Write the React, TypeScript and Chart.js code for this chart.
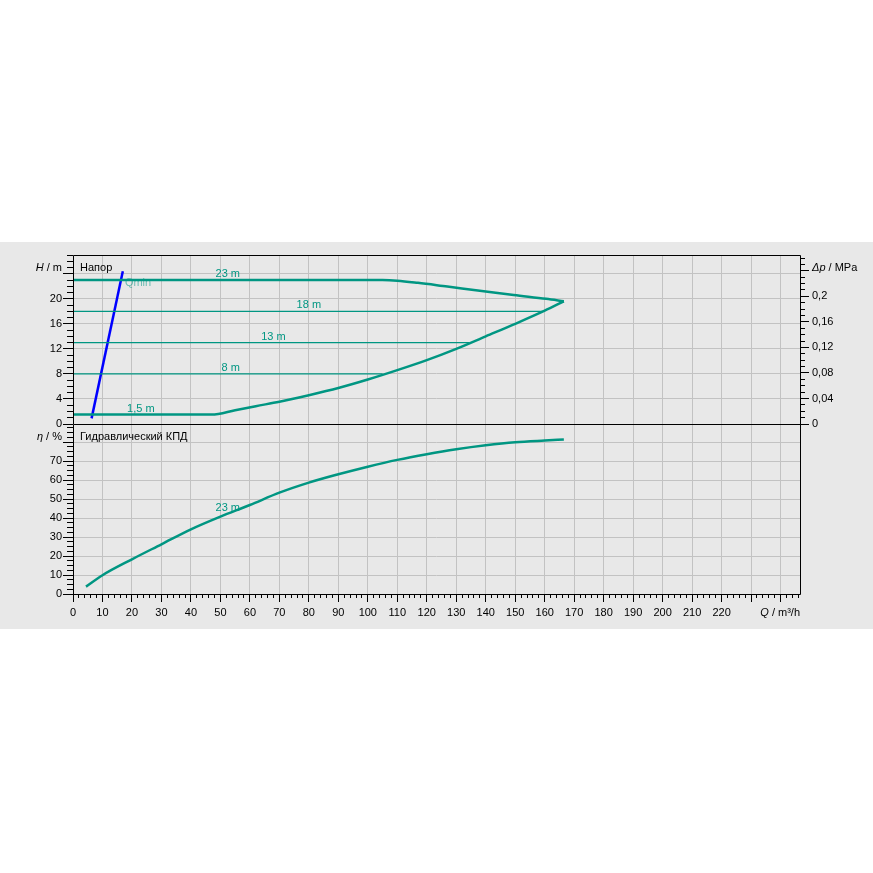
import React, { useEffect, useRef } from 'react';
import { Chart, registerables } from 'chart.js';
Chart.register(...registerables);

const TEAL = 'rgb(0,150,130)';
const TEAL_PALE = 'rgba(0,150,130,0.55)';
const GRID = '#c2c2c2';
const BG = '#e8e8e8';
const FONT = "'Liberation Sans', Arial, sans-serif";
Chart.defaults.font.family = FONT;
Chart.defaults.font.size = 11;
Chart.defaults.color = '#000';

// ---- data (Q in m³/h) ----
const Q_MAX = 246.6;          // right edge of the Q axis
const H_MAX = 27;             // top of the head panel, m
const P_MAX = 27 / 101.97;    // same top in MPa
const ETA_MAX = 89.6;         // top of the efficiency panel, %

// max curve (23 m, then falling)
const qMax = [0, 105, 110, 117, 127, 138, 149.5, 160.5, 166.5];
const hMax = [23, 23, 22.9, 22.55, 21.95, 21.3, 20.6, 20.0, 19.6];
// min curve (1,5 m, then rising)
const qMin = [0, 47, 55, 62, 70, 80, 90, 100, 110, 120, 130, 140, 150, 160, 166.5];
const hMin = [1.5, 1.5, 2.2, 2.85, 3.55, 4.6, 5.75, 7.1, 8.6, 10.2, 12.0, 14.0, 16.0, 18.1, 19.6];
// constant-head lines
const q18 = [0, 159.5];
const h18 = [18, 18];
const q13 = [0, 134.5];
const h13 = [13, 13];
const q8 = [0, 105];
const h8 = [8, 8];
// Qmin line
const qQmin = [6.3, 16.9];
const hQmin = [0.9, 24.4];
// hydraulic efficiency
const qEta = [4.4, 10, 20, 30, 40, 50, 60, 70, 80, 90, 100, 110, 120, 130, 140, 150, 160, 166.5];
const etaVals = [3.9, 9.9, 18.3, 26.2, 34.1, 40.8, 46.9, 53.4, 58.7, 63.1, 67.1, 70.7, 73.7, 76.3, 78.4, 80.0, 80.9, 81.4];

// curve labels
const headLabelText = ['23 m', '18 m', '13 m', '8 m', '1,5 m'];
const headLabelQ = [52.5, 80, 68, 53.5, 23];
const headLabelH = [23, 18, 13, 8, 1.5];
const etaLabelText = ['23 m'];
const etaLabelQ = [52.5];
const etaLabelEta = [42.3];
const qminLabel = { text: 'Qmin', q: 17.6, h: 22.5 };

const pts = (xs: number[], ys: number[]) => xs.map((x, i) => ({ x, y: ys[i] }));

function align(p: number) {
  return Math.round(p - 0.5) + 0.5;
}

function drawUnit(ctx: CanvasRenderingContext2D, italic: string, rest: string, x: number, y: number, alignTo: 'left' | 'right') {
  ctx.save();
  ctx.textBaseline = 'middle';
  ctx.textAlign = 'left';
  ctx.fillStyle = '#000';
  ctx.font = `italic 11px ${FONT}`;
  const wi = ctx.measureText(italic).width;
  ctx.font = `11px ${FONT}`;
  const wr = ctx.measureText(rest).width;
  const x0 = alignTo === 'right' ? x - wi - wr : x;
  ctx.font = `italic 11px ${FONT}`;
  ctx.fillText(italic, x0, y);
  ctx.font = `11px ${FONT}`;
  ctx.fillText(rest, x0 + wi, y);
  ctx.restore();
}

type MinorSpec = { id: string; step: number; len: number; side: 'left' | 'right' | 'bottom' };

function drawMinor(chart: any, specs: MinorSpec[]) {
  const ctx = chart.ctx;
  ctx.save();
  ctx.strokeStyle = '#000';
  ctx.lineWidth = 1;
  ctx.beginPath();
  for (const spec of specs) {
    const s = chart.scales[spec.id];
    const n = Math.floor((s.max - s.min) / spec.step + 1e-6);
    for (let i = 0; i <= n; i++) {
      const v = s.min + i * spec.step;
      const p = align(s.getPixelForValue(v));
      if (spec.side === 'left') {
        ctx.moveTo(s.right - spec.len, p);
        ctx.lineTo(s.right, p);
      } else if (spec.side === 'right') {
        ctx.moveTo(s.left, p);
        ctx.lineTo(s.left + spec.len, p);
      } else {
        ctx.moveTo(p, s.top);
        ctx.lineTo(p, s.top + spec.len);
      }
    }
  }
  ctx.stroke();
  ctx.restore();
}

function drawFrame(chart: any) {
  const { left, right, top, bottom } = chart.chartArea;
  const ctx = chart.ctx;
  ctx.save();
  ctx.strokeStyle = '#000';
  ctx.lineWidth = 1;
  ctx.beginPath();
  const l = align(left), r = align(right), t = align(top), b = align(bottom);
  ctx.moveTo(l, t); ctx.lineTo(r, t); ctx.lineTo(r, b); ctx.lineTo(l, b); ctx.closePath();
  ctx.stroke();
  ctx.restore();
}

const lineDs = (data: any[], width: number, color: string, yAxisID: string, smooth: boolean) => ({
  data,
  yAxisID,
  borderColor: color,
  backgroundColor: color,
  borderWidth: width,
  showLine: true,
  pointRadius: 0,
  fill: false,
  cubicInterpolationMode: smooth ? 'monotone' : 'default',
  tension: 0,
});

const xTicksCb = (v: number) => (v > 220 ? '' : String(v));

function topConfig(): any {
  return {
    type: 'scatter',
    data: {
      datasets: [
        lineDs(pts(q18, h18), 1.2, TEAL, 'yH', false),
        lineDs(pts(q13, h13), 1.2, TEAL, 'yH', false),
        lineDs(pts(q8, h8), 1.2, TEAL, 'yH', false),
        lineDs(pts(qMax, hMax), 2.5, TEAL, 'yH', true),
        lineDs(pts(qMin, hMin), 2.5, TEAL, 'yH', true),
        lineDs(pts(qQmin, hQmin), 2.5, '#0000ff', 'yH', false),
      ],
    },
    options: {
      animation: false,
      responsive: false,
      layout: { padding: { top: 13, left: 0, right: 0, bottom: 0 } },
      plugins: { legend: { display: false }, tooltip: { enabled: false } },
      scales: {
        x: {
          type: 'linear', position: 'bottom', min: 0, max: Q_MAX,
          ticks: { display: false, stepSize: 10, includeBounds: false, autoSkip: false },
          grid: { color: GRID, drawTicks: false, tickLength: 0 },
          border: { display: false },
          afterFit: (s: any) => { s.height = 13; },
        },
        yH: {
          type: 'linear', position: 'left', min: 0, max: H_MAX,
          ticks: { stepSize: 4, includeBounds: false, autoSkip: false, padding: 1, color: '#000',
            callback: (v: number) => (v === 24 ? '' : String(v)) },
          grid: { color: GRID, tickColor: '#000', tickLength: 10 },
          border: { display: false },
          afterFit: (s: any) => { s.width = 73; },
        },
        yP: {
          type: 'linear', position: 'right', min: 0, max: P_MAX,
          ticks: { stepSize: 0.04, includeBounds: false, autoSkip: false, padding: 3, color: '#000',
            callback: (v: number) => (Math.abs(v - 0.24) < 1e-6 ? '' : v === 0 ? '0' : String(+v.toFixed(2)).replace('.', ',')) },
          grid: { drawOnChartArea: false, tickColor: '#000', tickLength: 9 },
          border: { display: false },
          afterFit: (s: any) => { s.width = 73; },
        },
      },
    },
    plugins: [
      {
        id: 'topBefore',
        beforeDatasetsDraw(chart: any) {
          const ctx = chart.ctx;
          const x = chart.scales.x, y = chart.scales.yH;
          ctx.save();
          ctx.font = `11px ${FONT}`;
          ctx.fillStyle = TEAL_PALE;
          ctx.textAlign = 'left';
          ctx.textBaseline = 'middle';
          ctx.fillText(qminLabel.text, x.getPixelForValue(qminLabel.q), y.getPixelForValue(qminLabel.h));
          ctx.restore();
        },
      },
      {
        id: 'topAfter',
        afterDraw(chart: any) {
          drawFrame(chart);
          drawMinor(chart, [
            { id: 'yH', step: 1, len: 6, side: 'left' },
            { id: 'yP', step: 0.01, len: 5, side: 'right' },
          ]);
          const ctx = chart.ctx;
          const x = chart.scales.x, y = chart.scales.yH;
          ctx.save();
          ctx.font = `11px ${FONT}`;
          ctx.fillStyle = TEAL;
          ctx.textAlign = 'center';
          ctx.textBaseline = 'alphabetic';
          headLabelText.forEach((t, i) => {
            ctx.fillText(t, x.getPixelForValue(headLabelQ[i]), y.getPixelForValue(headLabelH[i]) - 3);
          });
          ctx.fillStyle = '#000';
          ctx.textAlign = 'left';
          ctx.textBaseline = 'middle';
          const ty = chart.chartArea.top + 13;
          ctx.fillText('Напор', chart.chartArea.left + 7, ty);
          ctx.restore();
          drawUnit(ctx, 'H', ' / m', 62, ty, 'right');
          drawUnit(ctx, 'Δp', ' / MPa', chart.chartArea.right + 12, ty, 'left');
        },
      },
    ],
  };
}

function bottomConfig(): any {
  return {
    type: 'scatter',
    data: {
      datasets: [lineDs(pts(qEta, etaVals), 2.5, TEAL, 'yE', true)],
    },
    options: {
      animation: false,
      responsive: false,
      layout: { padding: { top: 8, left: 0, right: 73, bottom: 0 } },
      plugins: { legend: { display: false }, tooltip: { enabled: false } },
      scales: {
        x: {
          type: 'linear', position: 'bottom', min: 0, max: Q_MAX,
          ticks: { stepSize: 10, includeBounds: false, autoSkip: false, maxRotation: 0, padding: 4, color: '#000',
            callback: xTicksCb },
          grid: { color: GRID, tickColor: '#000', tickLength: 8 },
          border: { display: false },
          afterFit: (s: any) => { s.height = 35; },
        },
        yE: {
          type: 'linear', position: 'left', min: 0, max: ETA_MAX,
          ticks: { stepSize: 10, includeBounds: false, autoSkip: false, padding: 1, color: '#000',
            callback: (v: number) => (v === 80 ? '' : String(v)) },
          grid: { color: GRID, tickColor: '#000', tickLength: 10 },
          border: { display: false },
          afterFit: (s: any) => { s.width = 73; },
        },
      },
    },
    plugins: [
      {
        id: 'botAfter',
        afterDraw(chart: any) {
          drawFrame(chart);
          drawMinor(chart, [
            { id: 'yE', step: 2.5, len: 6, side: 'left' },
            { id: 'x', step: 2, len: 4, side: 'bottom' },
          ]);
          const ctx = chart.ctx;
          const x = chart.scales.x, y = chart.scales.yE;
          ctx.save();
          ctx.font = `11px ${FONT}`;
          ctx.fillStyle = TEAL;
          ctx.textAlign = 'center';
          ctx.textBaseline = 'alphabetic';
          etaLabelText.forEach((t, i) => {
            ctx.fillText(t, x.getPixelForValue(etaLabelQ[i]), y.getPixelForValue(etaLabelEta[i]) - 3);
          });
          ctx.fillStyle = '#000';
          ctx.textAlign = 'left';
          ctx.textBaseline = 'middle';
          const ty = chart.chartArea.top + 13;
          ctx.fillText('Гидравлический КПД', chart.chartArea.left + 7, ty);
          ctx.restore();
          drawUnit(ctx, 'η', ' / %', 62, ty, 'right');
          drawUnit(ctx, 'Q', ' / m³/h', chart.chartArea.right, chart.chartArea.bottom + 19, 'right');
        },
      },
    ],
  };
}

export default function App() {
  const topRef = useRef<HTMLCanvasElement>(null);
  const botRef = useRef<HTMLCanvasElement>(null);
  useEffect(() => {
    const c1 = new Chart(topRef.current as HTMLCanvasElement, topConfig());
    const c2 = new Chart(botRef.current as HTMLCanvasElement, bottomConfig());
    return () => {
      c1.destroy();
      c2.destroy();
    };
  }, []);
  return (
    <div style={{ position: 'absolute', left: 0, top: 0, width: 873, height: 873, background: '#fff', overflow: 'hidden' }}>
      <div style={{ position: 'absolute', left: 0, top: 242, width: 873, height: 387, background: BG }} />
      <canvas ref={botRef} width={873} height={213} style={{ position: 'absolute', left: 0, top: 416, width: 873, height: 213 }} />
      <canvas ref={topRef} width={873} height={195} style={{ position: 'absolute', left: 0, top: 242, width: 873, height: 195 }} />
    </div>
  );
}
